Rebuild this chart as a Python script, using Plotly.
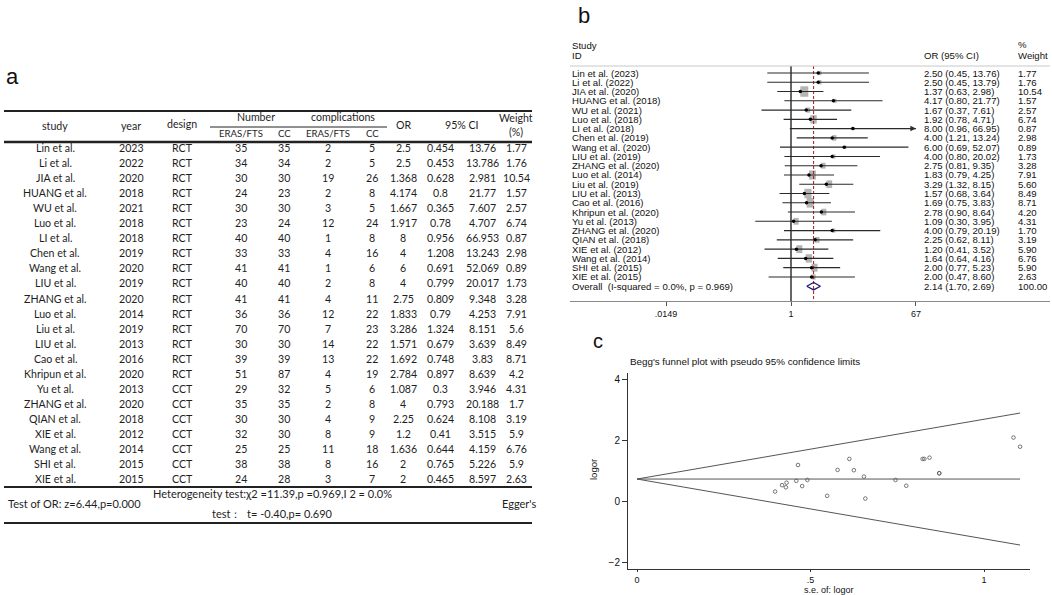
import math
import plotly.graph_objects as go

W, H = 1052, 595

# ---------------- Panel a data (table) ----------------
study_a = ["Lin et al.", "Li et al.", "JIA et al.", "HUANG et al.", "WU et al.", "Luo et al.",
           "LI et al.", "Chen et al.", "Wang et al.", "LIU et al.", "ZHANG et al.", "Luo et al.",
           "Liu et al.", "LIU et al.", "Cao et al.", "Khripun et al.", "Yu et al.", "ZHANG et al.",
           "QIAN et al.", "XIE et al.", "Wang et al.", "SHI et al.", "XIE et al."]
year_a = [2023, 2022, 2020, 2018, 2021, 2018, 2018, 2019, 2020, 2019, 2020, 2014, 2019, 2013,
          2016, 2020, 2013, 2020, 2018, 2012, 2014, 2015, 2015]
design_a = ["RCT"] * 16 + ["CCT"] * 7
n_eras = [35, 34, 30, 24, 30, 23, 40, 33, 41, 40, 41, 36, 70, 30, 39, 51, 29, 35, 30, 32, 25, 38, 24]
n_cc = [35, 34, 30, 23, 30, 24, 40, 33, 41, 40, 41, 36, 70, 30, 39, 87, 32, 35, 30, 30, 25, 38, 28]
c_eras = [2, 2, 19, 2, 3, 12, 1, 4, 1, 2, 4, 12, 7, 14, 13, 4, 5, 2, 4, 8, 11, 8, 3]
c_cc = [5, 5, 26, 8, 5, 24, 8, 16, 6, 8, 11, 22, 23, 22, 22, 19, 6, 8, 9, 9, 18, 16, 7]
or_a = ["2.5", "2.5", "1.368", "4.174", "1.667", "1.917", "8", "4", "6", "4", "2.75", "1.833",
        "3.286", "1.571", "1.692", "2.784", "1.087", "4", "2.25", "1.2", "1.636", "2", "2"]
lo_a = ["0.454", "0.453", "0.628", "0.8", "0.365", "0.78", "0.956", "1.208", "0.691", "0.799",
        "0.809", "0.79", "1.324", "0.679", "0.748", "0.897", "0.3", "0.793", "0.624", "0.41",
        "0.644", "0.765", "0.465"]
hi_a = ["13.76", "13.786", "2.981", "21.77", "7.607", "4.707", "66.953", "13.243", "52.069",
        "20.017", "9.348", "4.253", "8.151", "3.639", "3.83", "8.639", "3.946", "20.188", "8.108",
        "3.515", "4.159", "5.226", "8.597"]
weight_a = ["1.77", "1.76", "10.54", "1.57", "2.57", "6.74", "0.87", "2.98", "0.89", "1.73", "3.28",
            "7.91", "5.6", "8.49", "8.71", "4.2", "4.31", "1.7", "3.19", "5.9", "6.76", "5.9", "2.63"]

# ---------------- Panel b data (forest) ----------------
study_b = ["Lin et al. (2023)", "Li et al. (2022)", "JIA et al. (2020)", "HUANG et al. (2018)",
           "WU et al. (2021)", "Luo et al. (2018)", "LI et al. (2018)", "Chen et al. (2019)",
           "Wang et al. (2020)", "LIU et al. (2019)", "ZHANG et al. (2020)", "Luo et al. (2014)",
           "Liu et al. (2019)", "LIU et al. (2013)", "Cao et al. (2016)", "Khripun et al. (2020)",
           "Yu et al. (2013)", "ZHANG et al. (2020)", "QIAN et al. (2018)", "XIE et al. (2012)",
           "Wang et al. (2014)", "SHI et al. (2015)", "XIE et al. (2015)"]
or_b = [2.50, 2.50, 1.37, 4.17, 1.67, 1.92, 8.00, 4.00, 6.00, 4.00, 2.75, 1.83, 3.29, 1.57, 1.69,
        2.78, 1.09, 4.00, 2.25, 1.20, 1.64, 2.00, 2.00]
lo_b = [0.45, 0.45, 0.63, 0.80, 0.37, 0.78, 0.96, 1.21, 0.69, 0.80, 0.81, 0.79, 1.32, 0.68, 0.75,
        0.90, 0.30, 0.79, 0.62, 0.41, 0.64, 0.77, 0.47]
hi_b = [13.76, 13.79, 2.98, 21.77, 7.61, 4.71, 66.95, 13.24, 52.07, 20.02, 9.35, 4.25, 8.15, 3.64,
        3.83, 8.64, 3.95, 20.19, 8.11, 3.52, 4.16, 5.23, 8.60]
w_b = [1.77, 1.76, 10.54, 1.57, 2.57, 6.74, 0.87, 2.98, 0.89, 1.73, 3.28, 7.91, 5.60, 8.49, 8.71,
       4.20, 4.31, 1.70, 3.19, 5.90, 6.76, 5.90, 2.63]
overall_or, overall_lo, overall_hi = 2.14, 1.70, 2.69
overall_label = "Overall  (I-squared = 0.0%, p = 0.969)"
arrow_study = "LI et al. (2018)"
forest_ticks = [0.0149, 1, 67]
forest_ticktext = [".0149", "1", "67"]

# ---------------- Panel c data (funnel) ----------------
se_c = [0.871, 0.871, 0.398, 0.843, 0.776, 0.459, 1.085, 0.612, 1.104, 0.823, 0.625, 0.431, 0.464,
        0.429, 0.418, 0.578, 0.658, 0.828, 0.654, 0.548, 0.476, 0.491, 0.745]
logor_c = [0.91, 0.91, 0.31, 1.42, 0.50, 0.66, 2.08, 1.38, 1.78, 1.38, 1.01, 0.60, 1.18, 0.45,
           0.52, 1.02, 0.08, 1.38, 0.80, 0.17, 0.49, 0.69, 0.69]
pooled_logor = 0.72
se_max = 1.104

# ---------------- helpers ----------------
def PX(x):
    return x / W

def PY(y):
    return 1 - y / H

annotations = []
shapes = []
fig = go.Figure()

TFONT = "Lato, 'Open Sans', sans-serif"
TCOL = "#1e1e1e"
TS = 10.6

def txt(x, y, s, size=TS, anchor="center", font=TFONT, color=TCOL, **kw):
    annotations.append(dict(x=PX(x), y=PY(y), xref="paper", yref="paper", text=s,
                            showarrow=False, xanchor=anchor, yanchor="middle",
                            font=dict(family=font, size=size, color=color), **kw))

def hline(x0, x1, y, width=1, color="#222"):
    shapes.append(dict(type="line", xref="paper", yref="paper", x0=PX(x0), x1=PX(x1),
                       y0=PY(y), y1=PY(y), line=dict(color=color, width=width)))

# ---------------- Panel a ----------------
txt(12, 77, "a", size=22, font="Liberation Sans, Arial", color="#111")
TL, TR = 4, 532
hline(TL, TR, 111, 2)
hline(210, 387, 127, 1)
hline(TL, TR, 142, 2.5)
hline(TL, TR, 487, 2)
hline(TL, TR, 523, 2)

cols = dict(study=55, year=131, design=182, ne=241, nc=284, ce=328, cc=372, orr=403,
            lo=440, hi=482, w=516)
txt(cols["study"], 126, "study")
txt(cols["year"], 126, "year")
txt(cols["design"], 124, "design")
txt(256, 117, "Number")
txt(343, 117, "complications")
txt(cols["ne"], 133, "ERAS/FTS", size=9.6)
txt(cols["nc"], 133, "CC", size=9.6)
txt(cols["ce"], 133, "ERAS/FTS", size=9.6)
txt(cols["cc"], 133, "CC", size=9.6)
txt(cols["orr"], 125, "OR")
txt(462, 125, "95% CI")
txt(516, 118, "Weight")
txt(516, 132, "(%)")

for i in range(len(study_a)):
    y = 148 + i * 15.05
    txt(cols["study"], y, study_a[i])
    txt(cols["year"], y, str(year_a[i]))
    txt(cols["design"], y, design_a[i])
    txt(cols["ne"], y, str(n_eras[i]))
    txt(cols["nc"], y, str(n_cc[i]))
    txt(cols["ce"], y, str(c_eras[i]))
    txt(cols["cc"], y, str(c_cc[i]))
    txt(cols["orr"], y, or_a[i])
    txt(cols["lo"], y, lo_a[i])
    txt(cols["hi"], y, hi_a[i])
    txt(cols["w"], y, weight_a[i])

txt(272, 493, "Heterogeneity test:χ2 =11.39,p =0.969,I 2 = 0.0%", size=11)
txt(6, 503, "Test of OR: z=6.44,p=0.000", anchor="left", size=11)
txt(500, 503, "Egger's", anchor="left", size=11)
txt(272, 513, "test：  t= -0.40,p= 0.690", size=11)

# ---------------- Panel b (forest) ----------------
FF = "Liberation Sans, Arial, sans-serif"
txt(584, 15, "b", size=22, font=FF, color="#111")
fs = 9.6
txt(570, 46, "Study", size=fs, anchor="left", font=FF, color="#111")
txt(570, 55, "ID", size=fs, anchor="left", font=FF, color="#111")
txt(922, 55, "OR (95% CI)", size=fs, anchor="left", font=FF, color="#111")
txt(1016, 45, "%", size=fs, anchor="left", font=FF, color="#111")
txt(1016, 55, "Weight", size=fs, anchor="left", font=FF, color="#111")
hline(570, 1050, 66, 1, "#c8c8c8")

ROW0, ROWD = 73.0, 9.27
n = len(study_b)
for i in range(n):
    y = ROW0 + i * ROWD
    txt(570, y, study_b[i], size=fs, anchor="left", font=FF, color="#111")
    txt(922, y, f"{or_b[i]:.2f} ({lo_b[i]:.2f}, {hi_b[i]:.2f})", size=fs, anchor="left",
        font=FF, color="#111")
    txt(1016, y, f"{w_b[i]:.2f}", size=fs, anchor="left", font=FF, color="#111")
yo = ROW0 + n * ROWD
txt(570, yo, overall_label, size=fs, anchor="left", font=FF, color="#111")
txt(922, yo, f"{overall_or:.2f} ({overall_lo:.2f}, {overall_hi:.2f})", size=fs, anchor="left",
    font=FF, color="#111")
txt(1016, yo, "100.00", size=fs, anchor="left", font=FF, color="#111")

fx0, fx1 = 570, 1050
fy_top, fy_bot = 66, 301
x_one, px_per_dec = 791.0, 68.4
xr = [(fx0 - x_one) / px_per_dec, (fx1 - x_one) / px_per_dec]
yr = [(fy_bot - ROW0) / ROWD, (fy_top - ROW0) / ROWD]
rows = list(range(n))

for i in range(n):
    wpx = 4.9 * math.sqrt(w_b[i])
    hpx = 0.66 * wpx
    shapes.append(dict(type="rect", xref="x2", yref="y2", xsizemode="pixel", ysizemode="pixel",
                       xanchor=or_b[i], yanchor=i, x0=-wpx / 2, x1=wpx / 2, y0=-hpx / 2,
                       y1=hpx / 2, fillcolor="#b4b4b4", line=dict(width=0), layer="below"))

fig.add_trace(go.Scatter(x=[1, 1], y=[yr[1], yr[0]], mode="lines", xaxis="x2", yaxis="y2",
                         line=dict(color="#000", width=1.2), hoverinfo="skip"))
fig.add_trace(go.Scatter(x=[overall_or, overall_or], y=[yr[1], yr[0]], mode="lines", xaxis="x2",
                         yaxis="y2", line=dict(color="#b01515", width=1, dash="3px,2px"),
                         hoverinfo="skip"))
for i in range(n):
    fig.add_trace(go.Scatter(x=[lo_b[i], hi_b[i]], y=[i, i], mode="lines", xaxis="x2",
                             yaxis="y2", line=dict(color="#2a2a2a", width=1.1), hoverinfo="skip"))
ia = study_b.index(arrow_study)
fig.add_trace(go.Scatter(x=[hi_b[ia]], y=[ia], mode="markers", xaxis="x2", yaxis="y2",
                         marker=dict(symbol="arrow-right", size=5.5, color="#2a2a2a",
                                     line=dict(width=0)), hoverinfo="skip"))
fig.add_trace(go.Scatter(x=or_b, y=rows, mode="markers", xaxis="x2", yaxis="y2",
                         marker=dict(color="#000", size=3.5), hoverinfo="skip"))
dh = 0.4
fig.add_trace(go.Scatter(x=[overall_lo, overall_or, overall_hi, overall_or, overall_lo],
                         y=[n, n - dh, n, n + dh, n], mode="lines", xaxis="x2", yaxis="y2",
                         line=dict(color="#1c1c7a", width=1.3), hoverinfo="skip"))

# ---------------- Panel c (funnel) ----------------
txt(598, 341, "c", size=20, font=FF, color="#111")
txt(628, 362, "Begg's funnel plot with pseudo 95% confidence limits", size=9.8, anchor="left",
    font=FF, color="#111")
cx0, cx1 = 628, 1030
cy_top, cy_bot = 373, 569
x_zero, px_per_se = 637.0, 347.0
y_zero, px_per_lo = 501.0, 30.5
cxr = [(cx0 - x_zero) / px_per_se, (cx1 - x_zero) / px_per_se]
cyr = [(y_zero - cy_bot) / px_per_lo, (y_zero - cy_top) / px_per_lo]

for sgn in (0, 1, -1):
    fig.add_trace(go.Scatter(x=[0, se_max], y=[pooled_logor, pooled_logor + sgn * 1.96 * se_max],
                             mode="lines", xaxis="x3", yaxis="y3",
                             line=dict(color="#555", width=1), hoverinfo="skip"))
fig.add_trace(go.Scatter(x=se_c, y=logor_c, mode="markers", xaxis="x3", yaxis="y3",
                         marker=dict(symbol="circle-open", size=3.6, color="#555",
                                     line=dict(width=0.8)), hoverinfo="skip"))
txt(593, 470, "logor", size=9.5, font=FF, color="#111", textangle=-90)
txt(829, 589.5, "s.e. of: logor", size=9, font=FF, color="#111")

fig.update_layout(
    width=W, height=H, margin=dict(l=0, r=0, t=0, b=0),
    paper_bgcolor="white", plot_bgcolor="white", showlegend=False,
    xaxis=dict(visible=False, domain=[0, 0.01]),
    yaxis=dict(visible=False, domain=[0, 0.01]),
    xaxis2=dict(type="log", domain=[PX(fx0), PX(fx1)], range=xr, anchor="y2",
                showgrid=False, zeroline=False, showline=True, linecolor="#8a8a8a",
                linewidth=1, ticks="outside", ticklen=4, tickcolor="#555",
                tickvals=forest_ticks, ticktext=forest_ticktext,
                tickfont=dict(family=FF, size=9, color="#111"), automargin=False),
    yaxis2=dict(domain=[PY(fy_bot), PY(fy_top)], range=yr, anchor="x2", visible=False,
                showgrid=False, zeroline=False),
    xaxis3=dict(domain=[PX(cx0), PX(cx1)], range=cxr, anchor="y3", showgrid=False,
                zeroline=False, showline=True, linecolor="#333", linewidth=1,
                ticks="outside", ticklen=2, tickcolor="#333", tickvals=[0, 0.5, 1],
                ticktext=["0", ".5", "1"], tickfont=dict(family=FF, size=9, color="#111"),
                automargin=False),
    yaxis3=dict(domain=[PY(cy_bot), PY(cy_top)], range=cyr, anchor="x3", showgrid=False,
                zeroline=False, showline=True, linecolor="#333", linewidth=1,
                ticks="outside", ticklen=5, tickcolor="#333", tickvals=[-2, 0, 2, 4],
                tickfont=dict(family=FF, size=10, color="#111"), automargin=False),
    annotations=annotations, shapes=shapes,
)

fig.write_html("out.html", config={"displayModeBar": False},
               post_script="document.body.style.margin='0px';document.body.style.padding='0px';")
